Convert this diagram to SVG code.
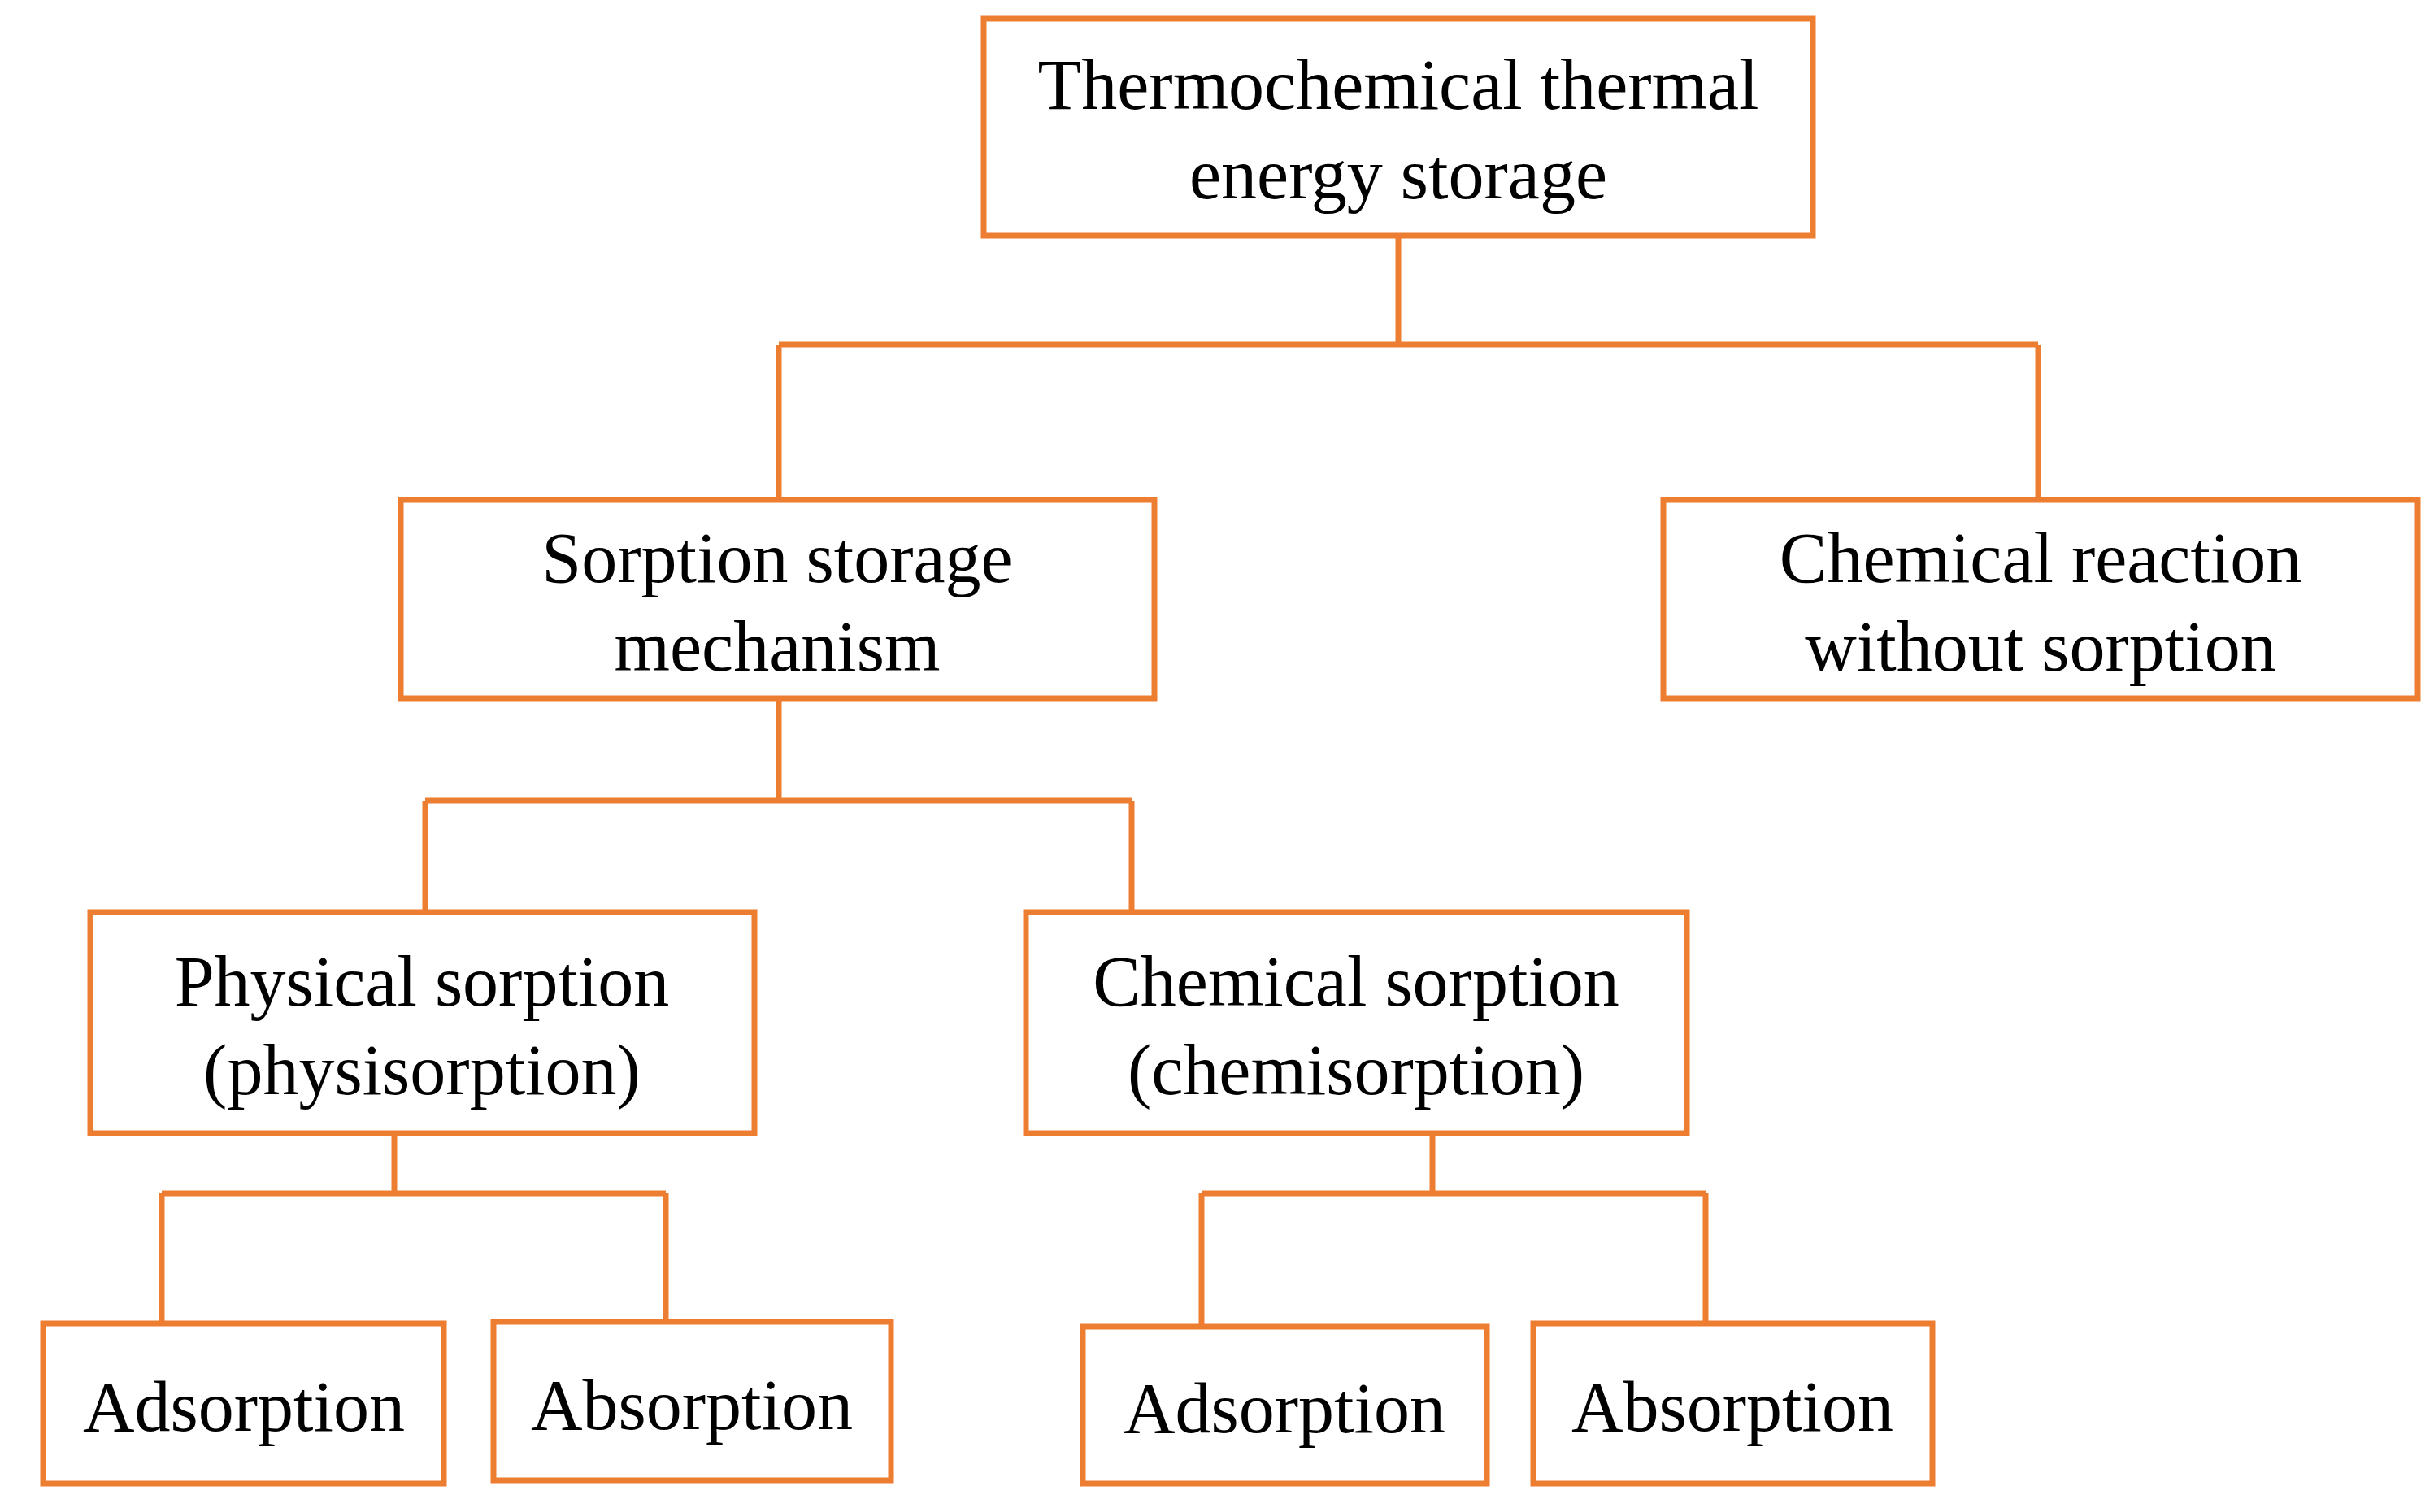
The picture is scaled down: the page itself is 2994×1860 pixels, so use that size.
<svg xmlns="http://www.w3.org/2000/svg" width="2994" height="1860" viewBox="0 0 2994 1860">
<style>
rect{fill:#fff;stroke:#ED7D31;stroke-width:7}
path{fill:none;stroke:#ED7D31;stroke-width:7}
text{font-family:"Liberation Serif","Times New Roman",serif;font-size:88px;fill:#000;text-anchor:middle}
</style>
<rect x="0" y="0" width="2994" height="1860" style="stroke:none"/>
<g id="connectors">
<path d="M1720 290V424M958 424H2507M958 424V615M2507 424V615"/>
<path d="M958 859V985M523 985H1392M523 985V1122M1392 985V1122"/>
<path d="M485 1394V1468M199 1468H819M199 1468V1628M819 1468V1626"/>
<path d="M1762 1394V1468M1478 1468H2098M1478 1468V1632M2098 1468V1628"/>
</g>
<g id="n1"><rect x="1210" y="23" width="1020" height="267"/><text x="1720" y="134">Thermochemical thermal</text><text x="1720" y="244">energy storage</text></g>
<g id="n2"><rect x="493" y="615" width="927" height="244"/><text x="956" y="716">Sorption storage</text><text x="956" y="825">mechanism</text></g>
<g id="n3"><rect x="2046" y="615" width="928" height="244"/><text x="2510" y="716">Chemical reaction</text><text x="2510" y="825">without sorption</text></g>
<g id="n4"><rect x="111" y="1122" width="817" height="272"/><text x="519" y="1237">Physical sorption</text><text x="519" y="1346">(physisorption)</text></g>
<g id="n5"><rect x="1262" y="1122" width="813" height="272"/><text x="1668" y="1237">Chemical sorption</text><text x="1668" y="1346">(chemisorption)</text></g>
<g id="n6"><rect x="53" y="1628" width="493" height="197"/><text x="300" y="1760">Adsorption</text></g>
<g id="n7"><rect x="607" y="1626" width="489" height="195"/><text x="851" y="1758">Absorption</text></g>
<g id="n8"><rect x="1332" y="1632" width="497" height="193"/><text x="1580" y="1762">Adsorption</text></g>
<g id="n9"><rect x="1886" y="1628" width="491" height="197"/><text x="2131" y="1760">Absorption</text></g>
</svg>
